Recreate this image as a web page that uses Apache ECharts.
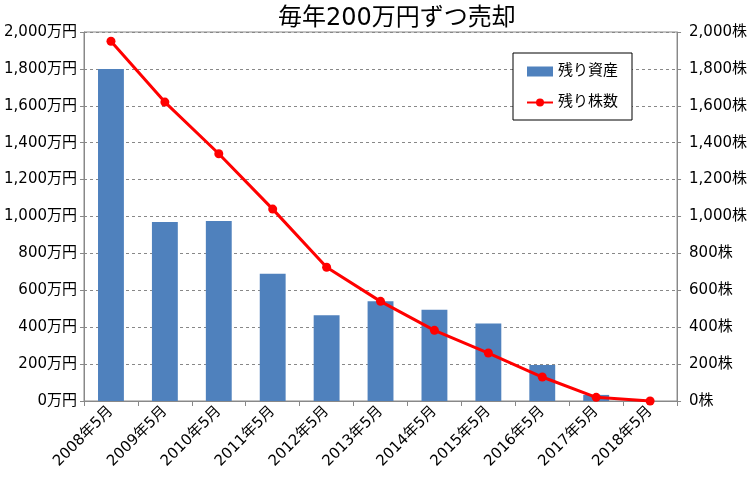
<!DOCTYPE html>
<html>
<head>
<meta charset="utf-8">
<script src="https://cdn.jsdelivr.net/npm/echarts@6/dist/echarts.min.js"></script>
<style>html,body{margin:0;padding:0;background:#fff}#c{width:750px;height:477px}</style>
</head>
<body>
<div id="c"></div>
<script>
const categories = ['2008年5月','2009年5月','2010年5月','2011年5月','2012年5月','2013年5月','2014年5月','2015年5月','2016年5月','2017年5月','2018年5月'];
const assetValues = [1800, 970, 975, 690, 465, 540, 495, 420, 195, 33, 0];
const shareValues = [1950, 1620, 1340, 1040, 725, 540, 383, 260, 130, 20, 0];
const titleText = '毎年200万円ずつ売却';
const seriesNames = ['残り資産', '残り株数'];
const leftUnit = '万円';
const rightUnit = '株';

const FONT = '"DejaVu Sans", "Noto Sans CJK JP", sans-serif';
const fmt = v => v.toString().replace(/\B(?=(\d{3})+(?!\d))/g, ',');

const chart = echarts.init(document.getElementById('c'), null, {renderer: 'canvas'});
chart.setOption({
  animation: false,
  backgroundColor: '#fff',
  textStyle: {fontFamily: FONT},
  title: {
    text: titleText, left: 273, top: 2,
    textStyle: {fontFamily: FONT, fontSize: 24, fontWeight: 'normal', color: '#000'}
  },
  legend: {
    orient: 'vertical', left: 513, top: 53,
    padding: [11, 14, 10, 13], itemGap: 16,
    borderColor: '#000', borderWidth: 1, backgroundColor: '#fff',
    itemWidth: 26, itemHeight: 10,
    textStyle: {fontFamily: FONT, fontSize: 15, color: '#000'},
    data: [
      {name: seriesNames[0], icon: 'rect'},
      {name: seriesNames[1]}
    ]
  },
  grid: {left: 84, right: 72, top: 32, bottom: 76, show: true, borderColor: '#888', borderWidth: 1},
  xAxis: {
    type: 'category', data: categories,
    axisLine: {lineStyle: {color: '#888'}},
    axisTick: {show: true, alignWithLabel: false, length: 5, lineStyle: {color: '#888'}},
    axisLabel: {rotate: 45, fontSize: 15, color: '#000', fontFamily: FONT, margin: 8, interval: 0}
  },
  yAxis: [
    {
      type: 'value', min: 0, max: 2000, interval: 200, position: 'left',
      axisLine: {show: true, lineStyle: {color: '#888'}},
      axisTick: {show: true, length: 4, lineStyle: {color: '#888'}},
      splitLine: {show: true, lineStyle: {color: '#888', type: [3, 3], width: 1}},
      axisLabel: {fontSize: 15, color: '#000', fontFamily: FONT, margin: 7, formatter: v => fmt(v) + leftUnit}
    },
    {
      type: 'value', min: 0, max: 2000, interval: 200, position: 'right',
      axisLine: {show: true, lineStyle: {color: '#888'}},
      axisTick: {show: true, length: 4, lineStyle: {color: '#888'}},
      splitLine: {show: false},
      axisLabel: {fontSize: 15, color: '#000', fontFamily: FONT, margin: 12, formatter: v => fmt(v) + rightUnit}
    }
  ],
  series: [
    {
      name: seriesNames[0], type: 'bar', data: assetValues, yAxisIndex: 0,
      barWidth: '48%',
      itemStyle: {color: '#4F81BD'}
    },
    {
      name: seriesNames[1], type: 'line', data: shareValues, yAxisIndex: 1,
      symbol: 'circle', symbolSize: 9,
      lineStyle: {color: '#FF0000', width: 3},
      itemStyle: {color: '#FF0000'}
    }
  ]
});
</script>
</body>
</html>
